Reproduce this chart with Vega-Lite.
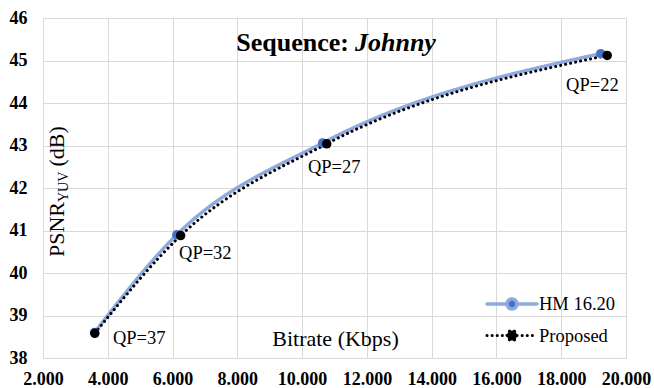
{
  "$schema": "https://vega.github.io/schema/vega-lite/v6.json",
  "width": 583,
  "height": 340,
  "autosize": {"type": "none"},
  "padding": {"left": 43, "top": 18, "right": 28, "bottom": 30},
  "background": "white",
  "config": {
    "view": {"stroke": null},
    "font": "Liberation Serif, serif",
    "text": {"font": "Liberation Serif, serif"},
    "legend": {"labelFont": "Liberation Serif, serif"},
    "axis": {"gridColor": "#D9D9D9", "gridWidth": 1, "domainColor": "#D9D9D9", "ticks": false, "labelFont": "Liberation Serif, serif", "labelFontWeight": "bold", "labelFontSize": 18, "labelColor": "black", "labelOverlap": false, "labelBound": false, "labelFlush": false}
  },
  "data": {"values": [
    {"series": "HM 16.20", "bitrate": 3590, "psnr": 38.60, "qp": 37},
    {"series": "HM 16.20", "bitrate": 6130, "psnr": 40.90, "qp": 32},
    {"series": "HM 16.20", "bitrate": 10635, "psnr": 43.06, "qp": 27},
    {"series": "HM 16.20", "bitrate": 19220, "psnr": 45.16, "qp": 22},
    {"series": "Proposed", "bitrate": 3600, "psnr": 38.58, "qp": 37},
    {"series": "Proposed", "bitrate": 6250, "psnr": 40.88, "qp": 32},
    {"series": "Proposed", "bitrate": 10760, "psnr": 43.04, "qp": 27},
    {"series": "Proposed", "bitrate": 19420, "psnr": 45.12, "qp": 22}
  ]},
  "layer": [
    {
      "mark": {"type": "line", "interpolate": "monotone", "strokeCap": "round"},
      "encoding": {
        "x": {"field": "bitrate", "type": "quantitative", "scale": {"domain": [2000, 20000]},
              "axis": {"values": [2000, 4000, 6000, 8000, 10000, 12000, 14000, 16000, 18000, 20000], "labelExpr": "replace(format(datum.value, ',.0f'), ',', '.')", "labelFont": "Liberation Serif, serif", "labelPadding": 12, "title": "Bitrate (Kbps)", "titleFont": "Liberation Serif, serif", "titleFontWeight": "normal", "titleFontSize": 22, "titleColor": "black", "titleX": 292, "titleY": -20, "titleBaseline": "middle", "titleAlign": "center", "titleAnchor": null}},
        "y": {"field": "psnr", "type": "quantitative", "scale": {"domain": [38, 46]},
              "axis": {"values": [38, 39, 40, 41, 42, 43, 44, 45, 46], "labelFont": "Liberation Serif, serif", "labelPadding": 16, "title": null}},
        "color": {"field": "series", "type": "nominal", "scale": {"domain": ["HM 16.20", "Proposed"], "range": ["#8FAADC", "#000000"]},
                  "legend": {"title": null, "orient": "none", "legendX": 457, "legendY": 274, "symbolType": "M-2.5,0L-0.5,0M0.5,0L2.5,0M0.5,0A0.5,0.5,0,1,1,-0.5,0A0.5,0.5,0,1,1,0.5,0Z", "symbolSize": 400, "labelFont": "Liberation Serif, serif", "labelFontSize": 18.5, "labelColor": "black", "labelOffset": 15, "padding": 0, "rowPadding": 8,
                             "encode": {"symbols": {"update": {"size": {"value": 400}, "strokeCap": {"value": "round"}}}}}},
        "strokeDash": {"field": "series", "type": "nominal", "scale": {"domain": ["HM 16.20", "Proposed"], "range": [[1, 0], [0.1, 5]]}},
        "strokeWidth": {"field": "series", "type": "nominal", "scale": {"domain": ["HM 16.20", "Proposed"], "range": [3.5, 3]}}
      }
    },
    {
      "mark": {"type": "point", "filled": true, "opacity": 1, "size": 90},
      "encoding": {
        "x": {"field": "bitrate", "type": "quantitative"},
        "y": {"field": "psnr", "type": "quantitative"},
        "fill": {"field": "series", "type": "nominal", "scale": {"domain": ["HM 16.20", "Proposed"], "range": ["#4472C4", "#000000"]}}
      }
    },
    {
      "data": {"values": [
        {"label": "QP=37", "lx": 4160, "ly": 38.47},
        {"label": "QP=32", "lx": 6200, "ly": 40.47},
        {"label": "QP=27", "lx": 10180, "ly": 42.49},
        {"label": "QP=22", "lx": 18150, "ly": 44.42}
      ]},
      "mark": {"type": "text", "align": "left", "baseline": "middle", "font": "Liberation Serif, serif", "fontSize": 18.5, "color": "black"},
      "encoding": {
        "x": {"field": "lx", "type": "quantitative"},
        "y": {"field": "ly", "type": "quantitative"},
        "text": {"field": "label"}
      }
    },
    {
      "data": {"values": [{}]},
      "mark": {"type": "text", "align": "right", "baseline": "alphabetic", "font": "Liberation Serif, serif", "fontSize": 26, "fontWeight": "bold", "color": "black", "text": "Sequence:"},
      "encoding": {"x": {"datum": 11447}, "y": {"datum": 45.22}}
    },
    {
      "data": {"values": [{}]},
      "mark": {"type": "text", "align": "left", "baseline": "alphabetic", "font": "Liberation Serif, serif", "fontSize": 26, "fontWeight": "bold", "fontStyle": "italic", "color": "black", "text": "Johnny"},
      "encoding": {"x": {"datum": 11632}, "y": {"datum": 45.22}}
    },
    {
      "data": {"values": [{}]},
      "mark": {"type": "text", "align": "left", "baseline": "alphabetic", "angle": 270, "font": "Liberation Serif, serif", "fontSize": 22, "color": "black", "text": "PSNR"},
      "encoding": {"x": {"datum": 2648}, "y": {"datum": 40.376}}
    },
    {
      "data": {"values": [{}]},
      "mark": {"type": "text", "align": "left", "baseline": "alphabetic", "angle": 270, "font": "Liberation Serif, serif", "fontSize": 14, "color": "black", "text": "YUV"},
      "encoding": {"x": {"datum": 2772}, "y": {"datum": 41.67}}
    },
    {
      "data": {"values": [{}]},
      "mark": {"type": "text", "align": "left", "baseline": "alphabetic", "angle": 270, "font": "Liberation Serif, serif", "fontSize": 22, "color": "black", "text": "(dB)"},
      "encoding": {"x": {"datum": 2648}, "y": {"datum": 42.505}}
    }
  ]
}
